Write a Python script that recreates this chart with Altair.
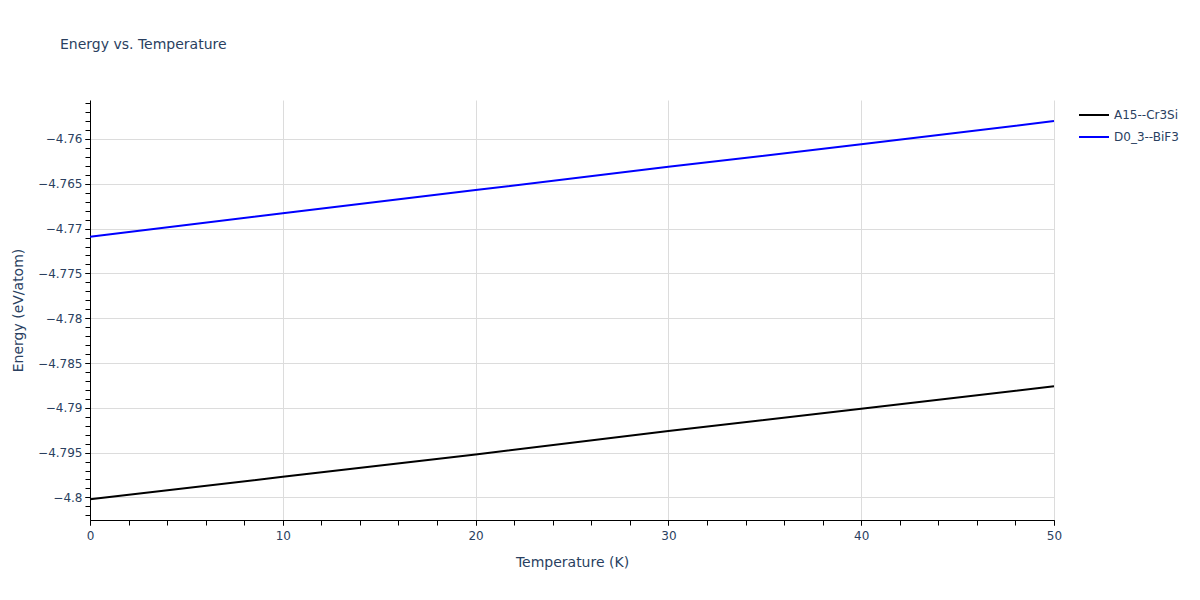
import altair as alt
import pandas as pd

temperature = [0, 10, 20, 30, 40, 50]
a15_cr3si = [-4.8002, -4.7977, -4.7952, -4.7926, -4.7901, -4.7876]
d0_3_bif3 = [-4.7709, -4.7683, -4.7657, -4.7631, -4.7606, -4.7580]
series_names = ["A15--Cr3Si", "D0_3--BiF3"]
series_colors = ["#000000", "#0000ff"]

x_major = [0, 10, 20, 30, 40, 50]
x_minor = list(range(0, 51, 2))
y_major = [-4.8, -4.795, -4.79, -4.785, -4.78, -4.775, -4.77, -4.765, -4.76]
y_minor = [round(-4.802 + 0.001 * i, 3) for i in range(47)]
x_domain = [0, 50]
y_domain = [-4.80252, -4.75565]

rows = []
for t, v in zip(temperature, a15_cr3si):
    rows.append({"T": t, "E": v, "series": series_names[0]})
for t, v in zip(temperature, d0_3_bif3):
    rows.append({"T": t, "E": v, "series": series_names[1]})
df = pd.DataFrame(rows)

FONT = "DejaVu Sans"
TXT = "#2a3f5f"

xscale = alt.Scale(domain=x_domain, nice=False, zero=False)
yscale = alt.Scale(domain=y_domain, nice=False, zero=False)

lines = alt.Chart(df).mark_line(strokeWidth=2).encode(
    x=alt.X("T:Q", scale=xscale, axis=alt.Axis(
        values=x_major, format="d", title="Temperature (K)", orient="bottom",
        grid=True, gridColor="#dcdcdc", tickSize=5, labelPadding=5,
        labelFlush=False, titlePadding=14)),
    y=alt.Y("E:Q", scale=yscale, axis=alt.Axis(
        values=y_major, format=".3~f", title="Energy (eV/atom)", orient="left",
        grid=True, gridColor="#dcdcdc", tickSize=5, labelPadding=3,
        labelFlush=False, titlePadding=12)),
    color=alt.Color("series:N", scale=alt.Scale(domain=series_names, range=series_colors),
                    legend=alt.Legend(title=None, orient="none", legendX=988, legendY=-1,
                                      symbolType="stroke", symbolSize=900,
                                      symbolStrokeWidth=2, labelFont=FONT,
                                      labelFontSize=12, labelColor=TXT,
                                      labelOffset=4, padding=0, rowPadding=-5)),
)

minor = alt.Chart(df).mark_line(opacity=0).encode(
    x=alt.X("T:Q", scale=xscale, axis=alt.Axis(
        values=x_minor, labels=False, title=None, grid=False, orient="bottom",
        tickSize=5, domain=False)),
    y=alt.Y("E:Q", scale=yscale, axis=alt.Axis(
        values=y_minor, labels=False, title=None, grid=False, orient="left",
        tickSize=5, domain=False)),
)

chart = alt.layer(minor, lines).resolve_scale(x="independent", y="independent").properties(
    width=964,
    height=420,
    autosize=alt.AutoSizeParams(type="none"),
    padding={"left": 82, "top": 92, "right": 138, "bottom": 72},
    title=alt.Title("Energy vs. Temperature", anchor="start", frame="group", dx=-30,
                    offset=47, font=FONT, fontSize=14, fontWeight="normal", color=TXT),
).configure_view(stroke=None).configure_axis(
    domainColor="#000000", tickColor="#000000", labelFont=FONT, labelFontSize=12,
    labelColor=TXT, titleFont=FONT, titleFontSize=14, titleColor=TXT,
    titleFontWeight="normal",
)

chart.save("out.html", embed_options={"renderer": "svg", "actions": False})
